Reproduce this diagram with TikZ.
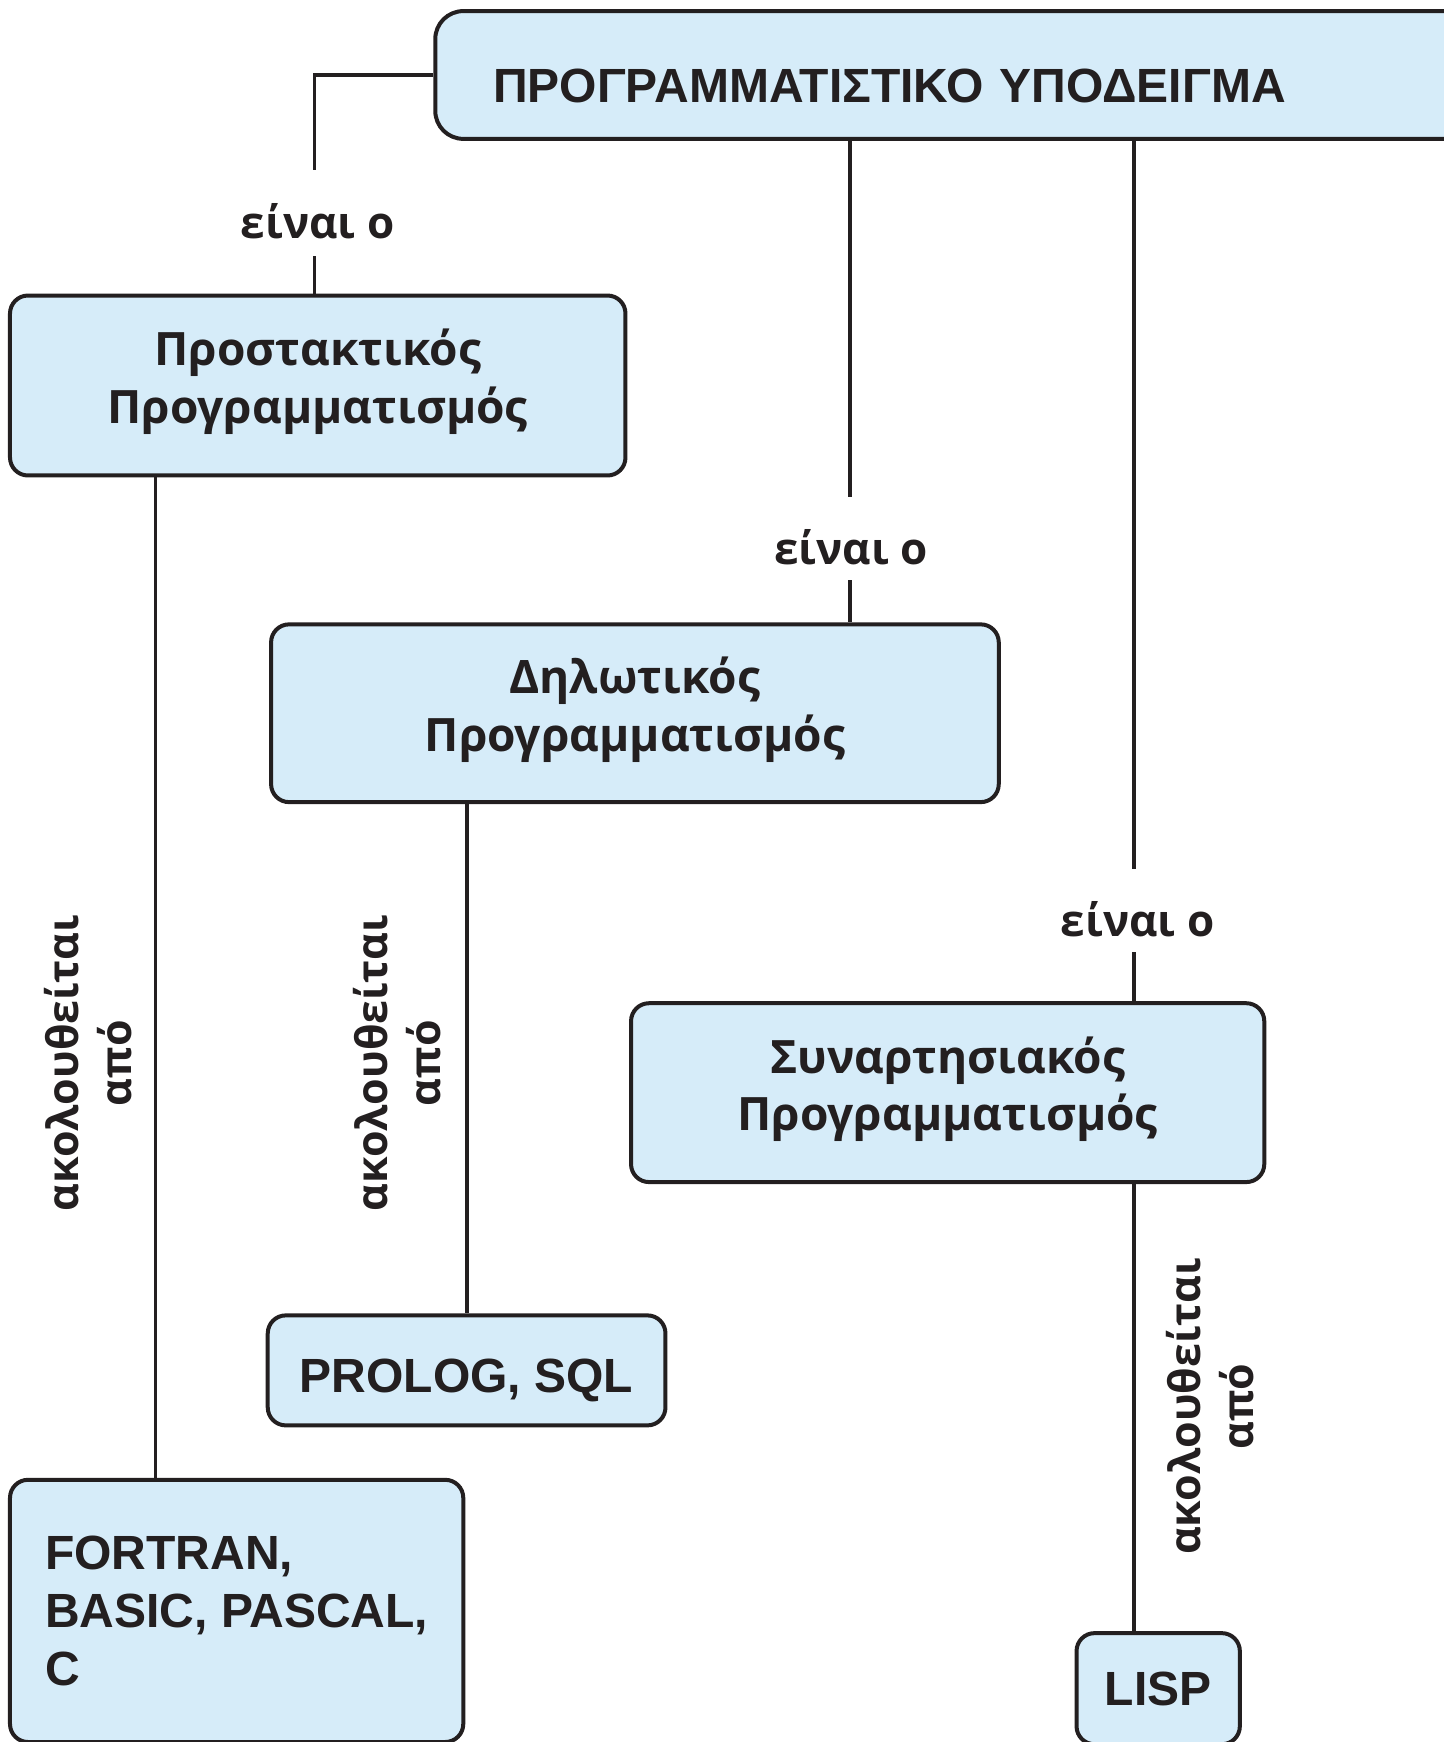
\documentclass[tikz,border=0pt]{standalone}
\usepackage{fontspec}
\newfontfamily\hvb{Liberation Sans}
\newfontfamily\hmb{Open Sans}
\definecolor{ink}{HTML}{231F20}
\definecolor{boxblue}{HTML}{D6ECF9}
\def\spx{1.1109pt}
\begin{document}
\begin{tikzpicture}[x=1.1109pt,y=-1.1109pt,
  box/.style={draw=ink, fill=boxblue, line width=4pt, rounded corners=18pt, inner sep=0pt, text=ink},
  conn/.style={draw=ink, line width=3.8pt},
  greekbox/.style={box, align=center, text depth=18pt, font=\hmb\bfseries\fontsize{46}{57.8}\selectfont},
  latinbox/.style={box, font=\hvb\bfseries\fontsize{48}{57.8}\selectfont},
  islabel/.style={fill=white, inner xsep=4pt, inner ysep=0pt, minimum height=75*\spx,
    text height=52pt, text depth=0pt, text=ink, font=\hmb\bfseries\fontsize{44}{57.8}\selectfont},
  follows/.style={rotate=90, align=center, inner sep=0pt, text=ink,
    font=\hmb\bfseries\fontsize{43}{53}\selectfont}]
\useasboundingbox (0,0) rectangle (1299,1568);

% boxes
\node[box, rounded corners=28pt, anchor=west, minimum height=115*\spx, text width=939.8pt,
  inner xsep=57.8pt, align=left, text height=56pt, text depth=0pt,
  font=\hvb\bfseries\fontsize{48}{57.8}\selectfont] (top) at (390,67.5) {ΠΡΟΓΡΑΜΜΑΤΙΣΤΙΚΟ ΥΠΟΔΕΙΓΜΑ};
\node[greekbox, minimum width=554*\spx, minimum height=162*\spx] (proc) at (286,347) {Προστακτικός\\Προγραμματισμός};
\node[greekbox, minimum width=655*\spx, minimum height=160*\spx] (decl) at (571.5,642) {Δηλωτικός\\Προγραμματισμός};
\node[greekbox, minimum width=570*\spx, minimum height=161*\spx] (func) at (853,983.5) {Συναρτησιακός\\Προγραμματισμός};
\node[latinbox, align=left, minimum width=408*\spx, minimum height=236*\spx] (fortran) at (213,1450) {FORTRAN,\\BASIC, PASCAL,\\C};
\node[latinbox, minimum width=358*\spx, minimum height=99*\spx, text height=49pt, text depth=4pt] (prolog) at (420,1233.5) {PROLOG, SQL};
\node[latinbox, minimum width=147*\spx, minimum height=100*\spx] (lisp) at (1042.5,1520) {LISP};

% connectors
\draw[conn] (top.west) -| ([xshift=-3*\spx]proc.north);
\draw[conn] (140,0 |- proc.south) -- (140,0 |- fortran.north);
\draw[conn] (765,0 |- top.south) -- (765,0 |- decl.north);
\draw[conn] (decl.south -| prolog.north) -- (prolog.north);
\draw[conn] (1021,0 |- top.south) -- (1021,0 |- func.north);
\draw[conn] (1021,0 |- func.south) -- (1021,0 |- lisp.north);

% connector labels
\node[islabel, minimum height=77*\spx] (is1) at (286,191.5) {είναι ο};
\node[islabel] (is2) at (766,484.5) {είναι ο};
\node[islabel] (is3) at (1024,819.5) {είναι ο};
\node[follows] (f1) at (79,957) {ακολουθείται\\από};
\node[follows] (f2) at (357,957) {ακολουθείται\\από};
\node[follows] (f3) at (1089,1266) {ακολουθείται\\από};
\end{tikzpicture}
\end{document}
